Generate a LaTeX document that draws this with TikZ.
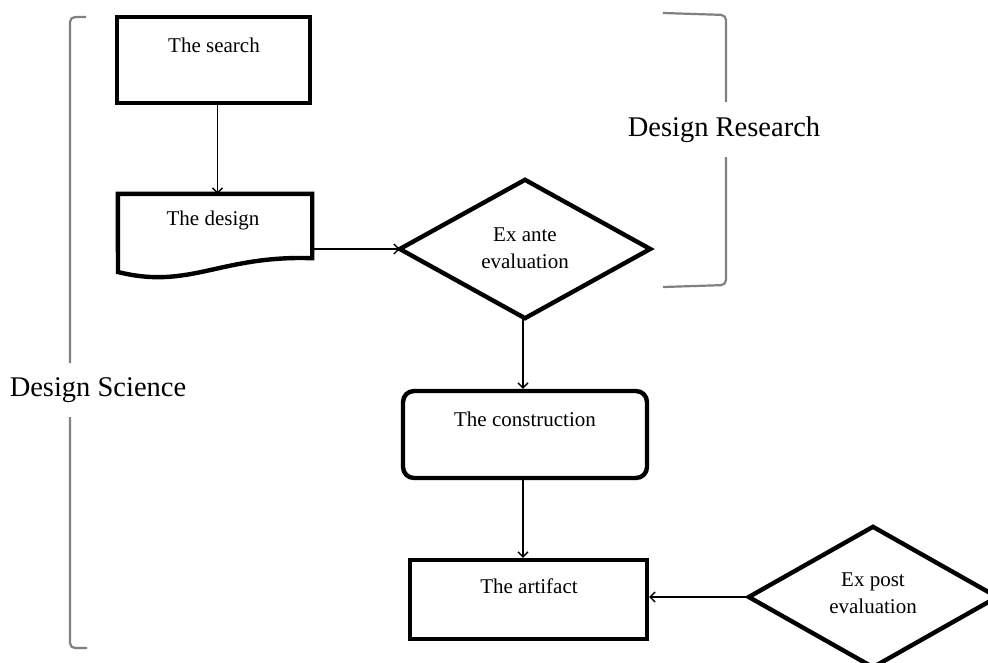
\documentclass[tikz,border=0pt]{standalone}
\usepackage{fontspec}
\setmainfont{Liberation Serif}
\usetikzlibrary{arrows.meta,calc}
\begin{document}
\begin{tikzpicture}[x=1pt,y=-1pt,
  frame/.style={draw=black,line width=4.4pt,inner sep=0pt},
  shell/.style={inner sep=0pt,draw=none},
  outline/.style={line width=4.4pt,line join=miter},
  boxtext/.style={inner sep=0pt,font=\fontsize{21}{26.5}\selectfont,align=center},
  bigtext/.style={inner sep=0pt,font=\fontsize{28.5}{34}\selectfont},
  flow/.style={draw=black,line width=1.5pt,-{Straight Barb[length=5pt,width=10pt,line width=1.3pt]}},
  brace/.style={draw=black!50,line width=2.2pt,rounded corners=5pt}]
\useasboundingbox (0,0) rectangle (988,662);
\clip (0,0) rectangle (988,662);

% process boxes
\node[frame,minimum width=193pt,minimum height=86pt] (search) at (213.5,60) {};
\node[boxtext] (searchtxt) at (214,45) {The search};

\node[shell,minimum width=194pt,minimum height=64pt] (design) at (215,226) {};
\draw[outline]
  (design.south east) -- (design.north east) -- (design.north west) -- (118,272)
  .. controls (190,290) and (220,255) .. (design.south east) -- cycle;
\node[boxtext] (designtxt) at (213,220) {The design};

\node[frame,rounded corners=11pt,minimum width=244pt,minimum height=87pt] (construction) at (525,434.5) {};
\node[boxtext] (constructiontxt) at (525,419) {The construction};

\node[frame,minimum width=237pt,minimum height=79pt] (artifact) at (528.5,599.5) {};
\node[boxtext] (artifacttxt) at (529,586) {The artifact};

% decision diamonds
\node[shell,minimum width=250pt,minimum height=138pt] (exante) at (525,249) {};
\draw[outline] (exante.west) -- (exante.north) -- (exante.east) -- (exante.south) -- cycle;
\node[boxtext] (exantetxt) at (525,248) {Ex ante\\evaluation};

\node[shell,minimum width=248pt,minimum height=140pt] (expost) at (873,597) {};
\draw[outline] (expost.west) -- (expost.north) -- (expost.east) -- (expost.south) -- cycle;
\node[boxtext] (exposttxt) at (873,593) {Ex post\\evaluation};

% connectors
\draw[flow] ([xshift=4pt]search.south) -- ([xshift=4pt]search.south |- design.north);
\draw[flow] (design.east |- exante.west) -- (exante.west);
\draw[flow] ([xshift=-2pt]exante.south) -- ([xshift=-2pt]exante.south |- construction.north);
\draw[flow] ([xshift=-2pt]construction.south) -- ([xshift=-2pt]construction.south |- artifact.north);
\draw[flow] (expost.west) -- (expost.west -| artifact.east);

% grouping brackets
\node[bigtext] (science) at (98,390) {Design Science};
\coordinate (sciencetop) at (86,17);
\coordinate (sciencebot) at (87,648);
\draw[brace] (sciencetop) -- (70,17) -- (70,363);
\draw[brace] (70,417) -- (70,648) -- (sciencebot);

\node[bigtext] (research) at (724,130) {Design Research};
\coordinate (researchtop) at (663,13);
\coordinate (researchbot) at (663,287);
\draw[brace] (researchtop) -- (726,15) -- (726,102);
\draw[brace] (726,157) -- (726,285) -- (researchbot);
\end{tikzpicture}
\end{document}
